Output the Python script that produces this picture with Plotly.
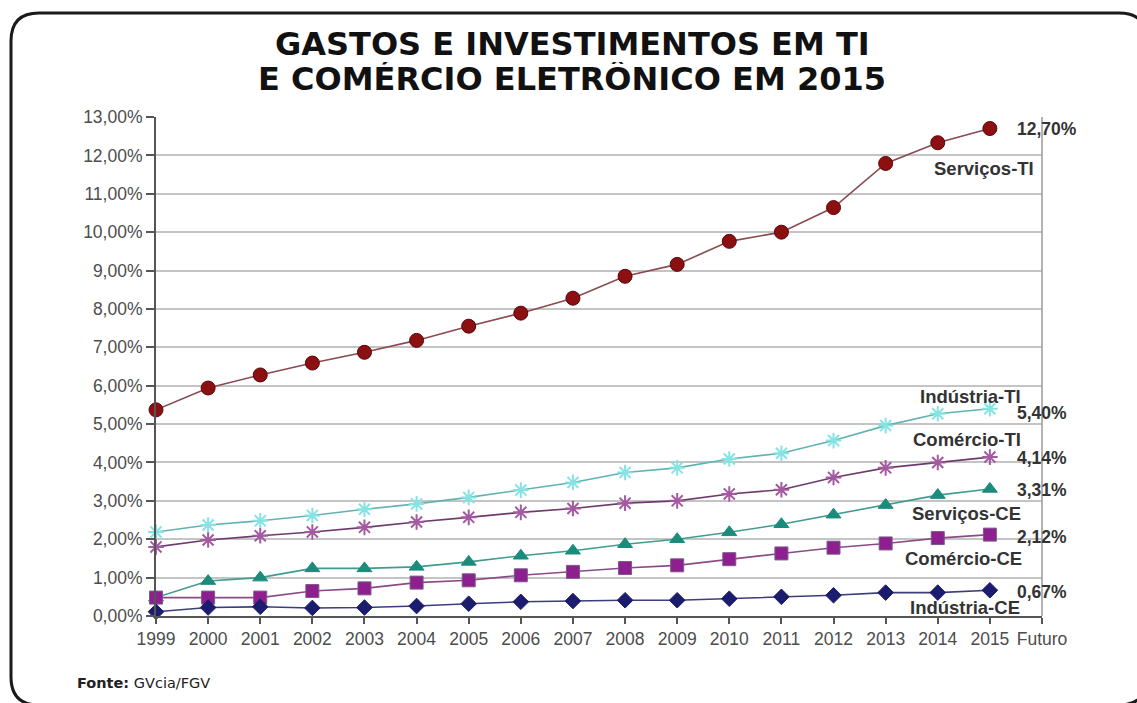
import plotly.graph_objects as go

# ---------------- data ----------------
years = list(range(1999, 2016))
x_tick_vals = list(range(1999, 2017))
x_tick_text = [str(y) for y in range(1999, 2016)] + ["Futuro"]

servicos_ti = [5.37, 5.94, 6.28, 6.59, 6.87, 7.18, 7.55, 7.89, 8.28, 8.85, 9.16, 9.76, 10.00, 10.64, 11.79, 12.33, 12.70]
industria_ti = [2.19, 2.37, 2.48, 2.62, 2.78, 2.92, 3.09, 3.28, 3.48, 3.74, 3.86, 4.09, 4.24, 4.57, 4.96, 5.27, 5.40]
comercio_ti = [1.80, 1.98, 2.09, 2.19, 2.31, 2.45, 2.57, 2.70, 2.80, 2.94, 3.00, 3.18, 3.29, 3.61, 3.86, 4.00, 4.14]
servicos_ce = [0.48, 0.91, 1.00, 1.24, 1.24, 1.28, 1.41, 1.57, 1.70, 1.87, 2.00, 2.18, 2.39, 2.64, 2.89, 3.15, 3.31]
comercio_ce = [0.48, 0.48, 0.48, 0.65, 0.72, 0.87, 0.93, 1.06, 1.15, 1.25, 1.32, 1.48, 1.63, 1.78, 1.89, 2.03, 2.12]
industria_ce = [0.11, 0.22, 0.24, 0.21, 0.22, 0.26, 0.32, 0.37, 0.39, 0.41, 0.41, 0.45, 0.50, 0.54, 0.61, 0.61, 0.67]

series_names = ["Serviços-TI", "Indústria-TI", "Comércio-TI", "Serviços-CE", "Comércio-CE", "Indústria-CE"]

title_lines = ["GASTOS E INVESTIMENTOS EM TI", "E COMÉRCIO ELETRÔNICO EM 2015"]
source_bold = "Fonte:"
source_text = "GVcia/FGV"

# ---------------- layout geometry ----------------
W, H = 1137, 703
L, R, T, B = 156, 1042, 117, 616  # plot area in pixels


def px(x):
    return (x - L) / (R - L)


def py(y):
    return (B - y) / (B - T)


def fmt_pct(v):
    return f"{v:.2f}%".replace(".", ",")


fig = go.Figure()

styles = [
    (servicos_ti, "circle", 14, "#8c0f12", "#5a0508", 1, "#8a4a50"),
    (industria_ti, "asterisk-open", 13, "#86e3e3", "#86e3e3", 2, "#5fb3b0"),
    (comercio_ti, "asterisk-open", 13, "#a45aa0", "#a45aa0", 2, "#6e3a6c"),
    (servicos_ce, "triangle-up", 13, "#1b8b7c", "#1b8b7c", 1, "#3f9c8e"),
    (comercio_ce, "square", 13, "#8e1f8f", "#7a5a8a", 1, "#8a4a86"),
    (industria_ce, "diamond", 12, "#1c1c6e", "#1c1c6e", 1, "#3b3d7c"),
]

for name, (vals, sym, size, fill, outline, lw, linec) in zip(series_names, styles):
    fig.add_trace(go.Scatter(
        x=years, y=vals, name=name, mode="lines+markers",
        line=dict(color=linec, width=1.6),
        marker=dict(symbol=sym, size=size, color=fill,
                    line=dict(color=outline, width=lw)),
        cliponaxis=False, showlegend=False,
    ))

# ---------------- annotations ----------------
ann = []
lab_font = dict(family="Liberation Sans, Arial, sans-serif", size=18.5, color="#333333")
val_font = dict(family="Liberation Sans, Arial, sans-serif", size=17.5, color="#333333")

# series name labels (right-aligned)
name_pos = [(1036, 168), (1023, 396), (1023, 439), (1023, 513), (1024, 558), (1022, 607)]
for nm, (xp, yp) in zip(series_names, name_pos):
    ann.append(dict(text=f"<b>{nm}</b>", x=px(xp), y=py(yp), xref="paper", yref="paper",
                    xanchor="right", yanchor="middle", showarrow=False, font=lab_font))

# value labels
last_vals = [servicos_ti[-1], industria_ti[-1], comercio_ti[-1], servicos_ce[-1], comercio_ce[-1], industria_ce[-1]]
val_pos = [(1015, 129), (1015, 413), (1015, 458), (1015, 490), (1015, 537), (1015, 592)]
for v, (xp, yp) in zip(last_vals, val_pos):
    ann.append(dict(text=f"<b>{fmt_pct(v)}</b>", x=px(xp), y=py(yp), xref="paper", yref="paper",
                    xanchor="left", yanchor="middle", showarrow=False, font=val_font))

# title
title_font = dict(family="DejaVu Sans, Arial, sans-serif", size=32, color="#111111", weight="bold")
for txt, yp in zip(title_lines, [44, 78]):
    ann.append(dict(text=txt, x=px(572), y=py(yp), xref="paper", yref="paper",
                    xanchor="center", yanchor="middle", showarrow=False, font=title_font,
                    height=33, valign="middle"))

# source
ann.append(dict(text=f"<b>{source_bold}</b> {source_text}", x=px(75), y=py(683),
                xref="paper", yref="paper", xanchor="left", yanchor="middle", showarrow=False,
                font=dict(family="DejaVu Sans, Arial, sans-serif", size=14.5, color="#222222")))

# ---------------- shapes ----------------
shapes = []
# right border of plot area
shapes.append(dict(type="line", xref="paper", yref="paper", x0=1, x1=1, y0=0, y1=1,
                   line=dict(color="#9a9a9a", width=1.5)))

# rounded outer frame
x0, y0, x1, y1, r = 11, 13, 1147, 705, 28
path = (
    f"M {px(x0 + r)},{py(y0)} L {px(x1 - r)},{py(y0)} "
    f"Q {px(x1)},{py(y0)} {px(x1)},{py(y0 + r)} "
    f"L {px(x1)},{py(y1 - r)} Q {px(x1)},{py(y1)} {px(x1 - r)},{py(y1)} "
    f"L {px(x0 + r)},{py(y1)} Q {px(x0)},{py(y1)} {px(x0)},{py(y1 - r)} "
    f"L {px(x0)},{py(y0 + r)} Q {px(x0)},{py(y0)} {px(x0 + r)},{py(y0)} Z"
)
shapes.append(dict(type="path", path=path, xref="paper", yref="paper",
                   line=dict(color="#1a1a1a", width=3)))

tick_font = dict(family="Liberation Sans, Arial, sans-serif", size=17.5, color="#4d4d4d")

fig.update_layout(
    width=W, height=H,
    margin=dict(l=L, r=W - R, t=T, b=H - B, pad=0),
    paper_bgcolor="white", plot_bgcolor="white",
    separators=",.",
    annotations=ann, shapes=shapes,
    xaxis=dict(range=[1999, 2016], tickmode="array", tickvals=x_tick_vals, ticktext=x_tick_text,
               showgrid=False, zeroline=False, showline=True, linecolor="#555555", linewidth=2,
               ticks="outside", ticklen=6, tickcolor="#555555", tickwidth=1.5,
               tickfont=tick_font, fixedrange=True),
    yaxis=dict(range=[0, 13], dtick=1, tick0=0, tickformat=".2f", ticksuffix="%",
               showgrid=True, gridcolor="#c4c4c4", gridwidth=1.5, zeroline=False,
               showline=True, linecolor="#555555", linewidth=2,
               ticks="outside", ticklen=8, tickcolor="#555555", tickwidth=1.5,
               tickfont=tick_font, fixedrange=True),
)

fig.write_html("out.html")
